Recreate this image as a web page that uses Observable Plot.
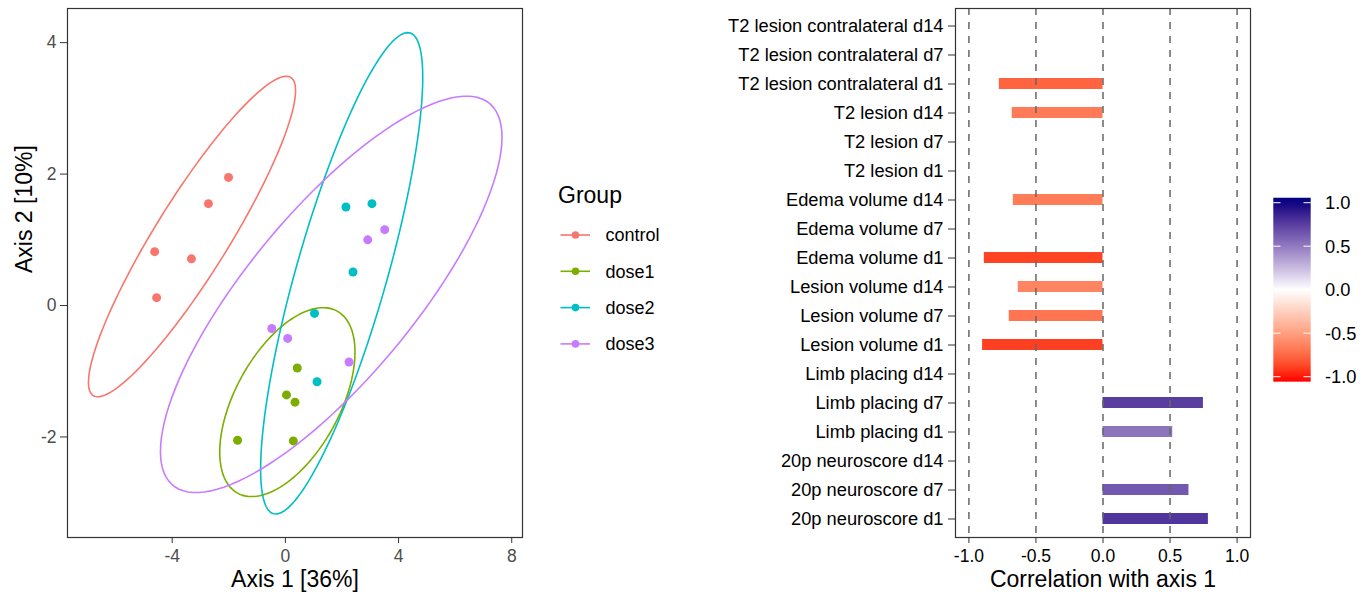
<!DOCTYPE html>
<html><head><meta charset="utf-8">
<script src="https://cdn.jsdelivr.net/npm/d3@7"></script>
<script src="https://cdn.jsdelivr.net/npm/@observablehq/plot@0.6"></script>
<style>
body{margin:0;background:#fff;}
#root{position:relative;width:1370px;height:596px;overflow:hidden;background:#fff;font-family:"Liberation Sans",Arial,sans-serif;}
#root > *{position:absolute;}
</style></head><body><div id="root"></div>
<script>
const FONT = '"Liberation Sans", Arial, sans-serif';

// ---- Left panel data (ordination) ----
const groups = ["control", "dose1", "dose2", "dose3"];
const groupColors = ["#F8766D", "#7CAE00", "#00BFC4", "#C77CFF"];
const sampleGroup = ["control","control","control","control","control",
                     "dose1","dose1","dose1","dose1","dose1",
                     "dose2","dose2","dose2","dose2","dose2",
                     "dose3","dose3","dose3","dose3","dose3"];
const axis1 = [-2.01, -2.72, -4.62, -3.32, -4.55,
               0.42, 0.04, 0.34, -1.69, 0.28,
               2.14, 3.06, 2.39, 1.03, 1.12,
               3.51, 2.91, -0.48, 0.08, 2.25];
const axis2 = [1.95, 1.55, 0.82, 0.71, 0.12,
               -0.95, -1.36, -1.47, -2.05, -2.06,
               1.50, 1.55, 0.51, -0.12, -1.16,
               1.155, 1.00, -0.35, -0.50, -0.86];
// ellipse (per group): centre and shape terms, x = cx + a cos t, y = cy + b cos t + c sin t
const ellCx = [-3.30, 0.07, 1.99, 1.62];
const ellCy = [1.05, -1.47, 0.49, 0.17];
const ellA = [3.66, 2.39, 2.865, 6.035];
const ellB = [2.22, 0.76, 2.98, 2.39];
const ellC = [1.01, 1.22, 2.13, 1.84];
const xTicksLeft = [-4, 0, 4, 8];
const yTicksLeft = [-2, 0, 2, 4];

// ---- Right panel data (correlations) ----
const variables = [
  "T2 lesion contralateral d14", "T2 lesion contralateral d7", "T2 lesion contralateral d1",
  "T2 lesion d14", "T2 lesion d7", "T2 lesion d1",
  "Edema volume d14", "Edema volume d7", "Edema volume d1",
  "Lesion volume d14", "Lesion volume d7", "Lesion volume d1",
  "Limb placing d14", "Limb placing d7", "Limb placing d1",
  "20p neuroscore d14", "20p neuroscore d7", "20p neuroscore d1"];
const correlations = [null, null, -0.773,
  -0.677, null, null,
  -0.669, null, -0.885,
  -0.632, -0.699, -0.898,
  null, 0.749, 0.52,
  null, 0.641, 0.786];
const corTicks = [-1, -0.5, 0, 0.5, 1];
const legendTicks = [1, 0.5, 0, -0.5, -1];

const root = document.getElementById("root");

// ---- Left plot ----
const pts = axis1.map((x, i) => ({x, y: axis2[i], g: sampleGroup[i]}));
const ell = [];
groups.forEach((g, k) => {
  for (let i = 0; i <= 120; i++) {
    const t = 2 * Math.PI * i / 120;
    ell.push({g, x: ellCx[k] + ellA[k] * Math.cos(t), y: ellCy[k] + ellB[k] * Math.cos(t) + ellC[k] * Math.sin(t)});
  }
});
const left = Plot.plot({
  width: 540, height: 596,
  marginLeft: 67, marginRight: 18, marginTop: 8, marginBottom: 59,
  style: {fontFamily: FONT, fontSize: "17.5px", background: "transparent", color: "#000"},
  x: {domain: [-7.70, 8.38]},
  y: {domain: [-3.53, 4.52]},
  color: {domain: groups, range: groupColors},
  marks: [
    Plot.line(ell, {x: "x", y: "y", z: "g", stroke: "g", strokeWidth: 1.6}),
    Plot.dot(pts, {x: "x", y: "y", fill: "g", r: 4.5}),
    Plot.frame({stroke: "#333", strokeWidth: 1.2}),
    Plot.axisX({ticks: xTicksLeft, tickFormat: d => String(d), tickSize: 6, tickPadding: 6, stroke: "#333", fill: "#4d4d4d", fontSize: 17.5, label: null}),
    Plot.axisY({ticks: yTicksLeft, tickFormat: d => String(d), tickSize: 7, tickPadding: 4, stroke: "#333", fill: "#4d4d4d", fontSize: 17.5, label: null}),
    Plot.text(["Axis 1 [36%]"], {frameAnchor: "bottom", dy: 49, fontSize: 23, fill: "#000"}),
    Plot.text(["Axis 2 [10%]"], {frameAnchor: "left", dx: -42.5, rotate: -90, fontSize: 23, fill: "#000"})
  ]
});
left.style.left = "0px"; left.style.top = "0px";
root.appendChild(left);

// ---- Group legend ----
const leg = d3.create("svg").attr("width", 150).attr("height", 200)
  .style("left", "540px").style("top", "170px").style("font-family", FONT);
leg.append("text").attr("x", 18).attr("y", 33.3).attr("font-size", 23).attr("fill", "#000").text("Group");
groups.forEach((g, i) => {
  const cy = 65 + 36.3 * i;
  leg.append("line").attr("x1", 20.5).attr("x2", 50).attr("y1", cy).attr("y2", cy)
    .attr("stroke", groupColors[i]).attr("stroke-width", 1.6);
  leg.append("circle").attr("cx", 35.5).attr("cy", cy).attr("r", 3.8).attr("fill", groupColors[i]);
  leg.append("text").attr("x", 65.5).attr("y", cy).attr("dy", "0.35em").attr("font-size", 18).attr("fill", "#000").text(g);
});
root.appendChild(leg.node());

// ---- Right plot ----
const colorOpts = {type: "linear", domain: [-1, 0, 1], range: ["red", "white", "navy"], interpolate: "lab"};
const corData = variables.map((v, i) => ({v, r: correlations[i]})).filter(d => d.r != null);
const right = Plot.plot({
  width: 570, height: 596,
  marginLeft: 255, marginRight: 20, marginTop: 8, marginBottom: 59,
  style: {fontFamily: FONT, fontSize: "17.5px", background: "transparent", color: "#000"},
  x: {domain: [-1.1, 1.1]},
  y: {type: "band", domain: variables, paddingInner: 0.62, paddingOuter: 0.41},
  color: colorOpts,
  marks: [
    Plot.barX(corData, {x1: () => 0, x2: "r", y: "v", fill: "r"}),
    Plot.ruleX(corTicks, {stroke: "#666", strokeWidth: 1.5, strokeDasharray: "7,7"}),
    Plot.frame({stroke: "#333", strokeWidth: 1.2}),
    Plot.axisX({ticks: corTicks, tickFormat: d => d.toFixed(1), tickSize: 6, tickPadding: 6, stroke: "#333", fill: "#000", fontSize: 17.5, label: null}),
    Plot.axisY({tickSize: 7, tickPadding: 5, stroke: "#333", fill: "#000", fontSize: 18.3, label: null}),
    Plot.text(["Correlation with axis 1"], {frameAnchor: "bottom", dy: 49, fontSize: 23, fill: "#000"})
  ]
});
right.style.left = "700px"; right.style.top = "0px";
root.appendChild(right);

// ---- Colour bar legend ----
const cs = Plot.scale({color: colorOpts});
const cb = d3.create("svg").attr("width", 110).attr("height", 215)
  .style("left", "1260px").style("top", "180px").style("font-family", FONT);
const vy = v => 109.7 - 87 * v;
const grad = cb.append("defs").append("linearGradient").attr("id", "cbgrad")
  .attr("x1", 0).attr("x2", 0).attr("y1", 1).attr("y2", 0);
d3.range(0, 1.0001, 0.05).forEach(t => {
  const v = -1.057 + 2 * 1.057 * t;
  grad.append("stop").attr("offset", t).attr("stop-color", cs.apply(Math.max(-1, Math.min(1, v))));
});
cb.append("rect").attr("x", 13.3).attr("y", vy(1.057)).attr("width", 37.4).attr("height", vy(-1.057) - vy(1.057)).attr("fill", "url(#cbgrad)");
legendTicks.forEach(v => {
  cb.append("line").attr("x1", 13.3).attr("x2", 20.5).attr("y1", vy(v)).attr("y2", vy(v)).attr("stroke", "#fff").attr("stroke-width", 1);
  cb.append("line").attr("x1", 43.5).attr("x2", 50.7).attr("y1", vy(v)).attr("y2", vy(v)).attr("stroke", "#fff").attr("stroke-width", 1);
  cb.append("text").attr("x", 65).attr("y", vy(v)).attr("dy", "0.35em").attr("font-size", 18.3).attr("fill", "#000").text(v.toFixed(1));
});
root.appendChild(cb.node());
</script></body></html>
